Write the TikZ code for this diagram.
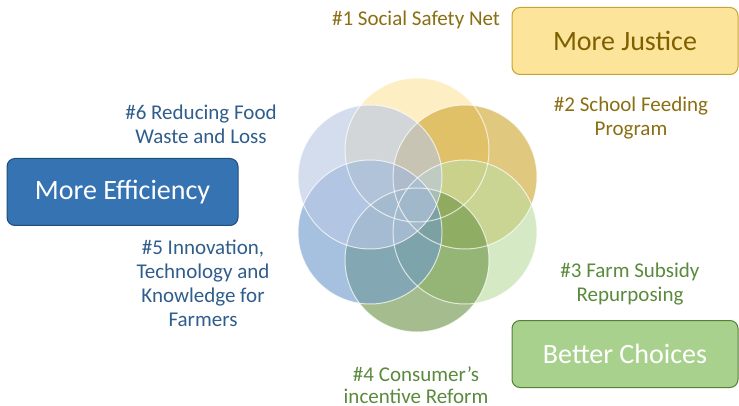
\documentclass[tikz,border=0pt]{standalone}
\usepackage{fontspec}
\setmainfont{Carlito}
\begin{document}
\definecolor{goldtxt}{HTML}{8A6E12}
\definecolor{bluetxt}{HTML}{2F5D8C}
\definecolor{greentxt}{HTML}{5A8A3C}
\definecolor{cYellow}{HTML}{FBE3A0}
\definecolor{cGold}{HTML}{CFA630}
\definecolor{cLightGreen}{HTML}{BCDCA0}
\definecolor{cGreen}{HTML}{6E9548}
\definecolor{cBlue}{HTML}{6F9BCB}
\definecolor{cGrayBlue}{HTML}{BAC8E4}
\definecolor{justiceLine}{HTML}{C9A230}
\definecolor{justiceFill}{HTML}{FCE49A}
\definecolor{justiceText}{HTML}{7F6000}
\definecolor{effLine}{HTML}{1F4E79}
\definecolor{effFill}{HTML}{3673B3}
\definecolor{choiceLine}{HTML}{538135}
\definecolor{choiceFill}{HTML}{A9D18E}
\begin{tikzpicture}[x=1pt,y=-1pt,
  petal/.style={fill opacity=0.62},
  goalbox/.style={rounded corners=8pt,line width=1pt,minimum width=226pt,minimum height=67pt,
    font=\fontsize{28}{32}\selectfont,inner sep=0pt},
  tag/.style={align=center,font=\fontsize{21}{24}\selectfont,inner sep=0pt}]
\useasboundingbox (0,0) rectangle (739,406);

% six overlapping circles around a common centre
\fill[petal,cYellow]     (417,150) circle (72);
\fill[petal,cGold]       (465,177) circle (72);
\fill[petal,cLightGreen] (465,232) circle (72);
\fill[petal,cGreen]      (417,260) circle (72);
\fill[petal,cBlue]       (370,232) circle (72);
\fill[petal,cGrayBlue]   (370,177) circle (72);
\foreach \p in {(417,150),(465,177),(465,232),(417,260),(370,232),(370,177)}
  \draw[white,line width=1pt,opacity=0.7] \p circle (72);

% goal boxes
\node[goalbox,draw=justiceLine,fill=justiceFill,text=justiceText] (justice) at (625,41) {More Justice};
\node[goalbox,draw=effLine,fill=effFill,text=white,minimum width=231pt] (efficiency) at (122.5,192) {More Efficiency};
\node[goalbox,draw=choiceLine,fill=choiceFill,text=white] (choices) at (625,354) {Better Choices};

% policy labels
\node[tag,text=goldtxt] (p1) at (416,20) {\#1 Social Safety Net};
\node[tag,text=goldtxt] (p2) at (631,118) {\#2 School Feeding\\Program};
\node[tag,text=greentxt] (p3) at (630,284) {\#3 Farm Subsidy\\Repurposing};
\node[tag,text=greentxt,font=\fontsize{21}{22}\selectfont] (p4) at (416,385) {\#4 Consumer’s\\incentive Reform};
\node[tag,text=bluetxt] (p5) at (203,283) {\#5 Innovation,\\Technology and\\Knowledge for\\Farmers};
\node[tag,text=bluetxt] (p6) at (201,124) {\#6 Reducing Food\\Waste and Loss};
\end{tikzpicture}
\end{document}
